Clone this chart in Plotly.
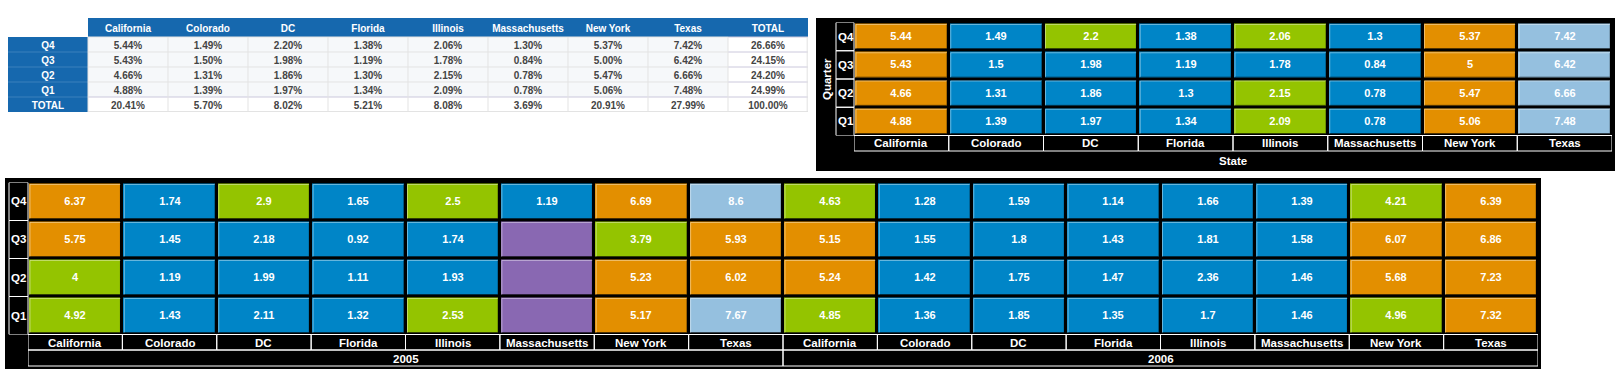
import plotly.graph_objects as go

W, H = 1620, 377

# ---------------- data ----------------
states = ["California", "Colorado", "DC", "Florida", "Illinois",
          "Massachusetts", "New York", "Texas"]
quarters = ["Q1", "Q2", "Q3", "Q4"]          # bottom -> top

# overall share by quarter (%), rows Q1..Q4
share_q1 = [4.88, 1.39, 1.97, 1.34, 2.09, 0.78, 5.06, 7.48]
share_q2 = [4.66, 1.31, 1.86, 1.30, 2.15, 0.78, 5.47, 6.66]
share_q3 = [5.43, 1.50, 1.98, 1.19, 1.78, 0.84, 5.00, 6.42]
share_q4 = [5.44, 1.49, 2.20, 1.38, 2.06, 1.30, 5.37, 7.42]
state_totals = [20.41, 5.70, 8.02, 5.21, 8.08, 3.69, 20.91, 27.99]
quarter_totals = {"Q4": 26.66, "Q3": 24.15, "Q2": 24.20, "Q1": 24.99}
grand_total = 100.00

years = ["2005", "2006"]
# by year, rows Q1..Q4, columns = states (None = missing)
y2005_q1 = [4.92, 1.43, 2.11, 1.32, 2.53, None, 5.17, 7.67]
y2005_q2 = [4.00, 1.19, 1.99, 1.11, 1.93, None, 5.23, 6.02]
y2005_q3 = [5.75, 1.45, 2.18, 0.92, 1.74, None, 3.79, 5.93]
y2005_q4 = [6.37, 1.74, 2.90, 1.65, 2.50, 1.19, 6.69, 8.60]
y2006_q1 = [4.85, 1.36, 1.85, 1.35, 1.70, 1.46, 4.96, 7.32]
y2006_q2 = [5.24, 1.42, 1.75, 1.47, 2.36, 1.46, 5.68, 7.23]
y2006_q3 = [5.15, 1.55, 1.80, 1.43, 1.81, 1.58, 6.07, 6.86]
y2006_q4 = [4.63, 1.28, 1.59, 1.14, 1.66, 1.39, 4.21, 6.39]

# ---------------- styling ----------------
BLUE, GREEN, ORANGE, LBLUE, PURPLE = "#0085C7", "#94C400", "#E38F00", "#95C0DF", "#8968B2"
TBLUE = "#1668AE"
FONT = "Liberation Sans"


def fx(p):
    return p / W


def fy(p):
    return 1 - p / H


def stepped(zmin, zmax, cuts, colors):
    pts = [zmin] + cuts + [zmax]
    sc = []
    for i, c in enumerate(colors):
        a = (pts[i] - zmin) / (zmax - zmin)
        b = (pts[i + 1] - zmin) / (zmax - zmin)
        sc += [[a, c], [b, c]]
    return sc


def fmt(v):
    return "" if v is None else f"{v:g}"


fig = go.Figure()

# ---------- black panels ----------
shapes = [
    dict(type="rect", xref="paper", yref="paper", x0=fx(816), x1=fx(1615), y0=fy(171), y1=fy(18),
         fillcolor="black", line_width=0, layer="below"),
    dict(type="rect", xref="paper", yref="paper", x0=fx(5), x1=fx(1541), y0=fy(369), y1=fy(178),
         fillcolor="black", line_width=0, layer="below"),
]
annotations = []

# ---------- summary table (drawn as a heatmap grid) ----------
tab_rows = ["TOTAL", "Q1", "Q2", "Q3", "Q4"]           # bottom -> top, header on top
share_by_q = {"Q1": share_q1, "Q2": share_q2, "Q3": share_q3, "Q4": share_q4}
header = [""] + states + ["TOTAL"]
t_text, t_cls = [], []
for r in tab_rows:
    if r == "TOTAL":
        vals = [f"{v:.2f}%" for v in state_totals] + [f"{grand_total:.2f}%"]
        cls = [0] + [2] * 9
    else:
        vals = [f"{v:.2f}%" for v in share_by_q[r]] + [f"{quarter_totals[r]:.2f}%"]
        cls = [0] + [1] * 8 + [2]
    t_text.append([r] + vals)
    t_cls.append(cls)
t_text.append(header)
t_cls.append([3] + [0] * 9)
row_h = [15, 15, 15, 15, 15, 19]
y_edges = [0]
for h in row_h:
    y_edges.append(y_edges[-1] + h)
x_edges = list(range(len(header) + 1))
fig.add_trace(go.Heatmap(
    z=t_cls, x=x_edges, y=y_edges, text=t_text, texttemplate="<b>%{text}</b>",
    textfont=dict(family=FONT, size=10),
    colorscale=[[0, TBLUE], [0.33, TBLUE], [0.33, "#F6F8FA"], [0.5, "#F6F8FA"],
                [0.5, "#FFFFFF"], [1, "#FFFFFF"]],
    zmin=0, zmax=3, showscale=False, hoverinfo="skip", xaxis="x3", yaxis="y3"))

# table grid lines
GL = "#E3E3E3"
LAV = "#CBC8DC"
nrow_body = 5
for k in range(1, nrow_body + 1):
    yv = y_edges[k]
    shapes.append(dict(type="line", xref="x3", yref="y3", x0=1, x1=9, y0=yv, y1=yv,
                       line=dict(color=LAV if k == 1 else GL, width=1)))
    shapes.append(dict(type="line", xref="x3", yref="y3", x0=9, x1=10, y0=yv, y1=yv,
                       line=dict(color=LAV, width=1)))
    if k < nrow_body:
        shapes.append(dict(type="line", xref="x3", yref="y3", x0=0, x1=1, y0=yv, y1=yv,
                           line=dict(color="#3B80BC", width=1)))
shapes.append(dict(type="line", xref="x3", yref="y3", x0=1, x1=10, y0=0.5, y1=0.5,
                   line=dict(color=GL, width=1)))
for c in range(1, 11):
    shapes.append(dict(type="line", xref="x3", yref="y3", x0=c if c < 10 else 9.99, x1=c if c < 10 else 9.99,
                       y0=0, y1=y_edges[nrow_body], line=dict(color=GL, width=1)))

# ---------- top-right heatmap ----------
z_top = [share_q1, share_q2, share_q3, share_q4]
fig.add_trace(go.Heatmap(
    z=z_top, x=list(range(len(states))), y=list(range(len(quarters))),
    text=[[fmt(v) for v in row] for row in z_top], texttemplate="<b>%{text}</b>",
    textfont=dict(family=FONT, size=11, color="white"),
    colorscale=stepped(0.7, 7.6, [2.0, 4.0, 6.0], [BLUE, GREEN, ORANGE, LBLUE]),
    zmin=0.7, zmax=7.6, showscale=False, xgap=3, ygap=3, hoverinfo="skip",
    xaxis="x", yaxis="y"))

# ---------- bottom heatmap ----------
z_bot = [y2005_q1 + y2006_q1, y2005_q2 + y2006_q2, y2005_q3 + y2006_q3, y2005_q4 + y2006_q4]
bot_states = states + states
nx = len(bot_states)
fig.add_trace(go.Heatmap(
    z=z_bot, x=list(range(nx)), y=list(range(4)),
    text=[[fmt(v) for v in row] for row in z_bot], texttemplate="<b>%{text}</b>",
    textfont=dict(family=FONT, size=11, color="white"),
    colorscale=stepped(0.8, 8.7, [2.4, 5.0, 7.5], [BLUE, GREEN, ORANGE, LBLUE]),
    zmin=0.8, zmax=8.7, showscale=False, xgap=3, ygap=3, hoverinfo="skip",
    xaxis="x2", yaxis="y2"))
# missing cells
z_miss = [[1 if v is None else None for v in row] for row in z_bot]
fig.add_trace(go.Heatmap(
    z=z_miss, x=list(range(nx)), y=list(range(4)),
    colorscale=[[0, PURPLE], [1, PURPLE]], showscale=False, xgap=3, ygap=3,
    hoverinfo="skip", xaxis="x2", yaxis="y2"))

# ---------- axes ----------
TOP_X = (854, 1612)
TOP_Y = (22.5, 135.5)
BOT_X = (28, 1538)
BOT_Y = (182.5, 334.5)
lab = dict(family=FONT, size=11.5, color="white")
ax_hidden = dict(visible=False, fixedrange=True)
fig.update_layout(
    xaxis=dict(domain=[fx(TOP_X[0]), fx(TOP_X[1])], range=[-0.5, len(states) - 0.5], anchor="y", **ax_hidden),
    yaxis=dict(domain=[fy(TOP_Y[1]), fy(TOP_Y[0])], range=[-0.5, 3.5], anchor="x", **ax_hidden),
    xaxis2=dict(domain=[fx(BOT_X[0]), fx(BOT_X[1])], range=[-0.5, nx - 0.5], anchor="y2", **ax_hidden),
    yaxis2=dict(domain=[fy(BOT_Y[1]), fy(BOT_Y[0])], range=[-0.5, 3.5], anchor="x2", **ax_hidden),
    xaxis3=dict(domain=[fx(8), fx(808)], range=[0, len(header)], anchor="y3", **ax_hidden),
    yaxis3=dict(domain=[fy(18 + y_edges[-1]), fy(18)], range=[0, y_edges[-1]], anchor="x3", **ax_hidden),
)


# bevel edges of the coloured cells (light top/left, dark bottom/right)
def bevels(xr, yr, ncols, nrows, pxw, pxh):
    pitch_x = pxw / ncols
    pitch_y = pxh / nrows
    gx = 2.0 / pitch_x
    gy = 2.0 / pitch_y
    out = []
    for j in range(ncols):
        for i in range(nrows):
            x0, x1 = j - 0.5 + gx, j + 0.5 - gx
            y0, y1 = i - 0.5 + gy, i + 0.5 - gy
            out.append(dict(type="path", xref=xr, yref=yr,
                            path=f"M{x0},{y0} L{x0},{y1} L{x1},{y1}",
                            line=dict(color="rgba(255,255,255,0.4)", width=1)))
            out.append(dict(type="path", xref=xr, yref=yr,
                            path=f"M{x0},{y0} L{x1},{y0} L{x1},{y1}",
                            line=dict(color="rgba(0,0,0,0.35)", width=1)))
    return out


shapes += bevels("x", "y", len(states), 4, TOP_X[1] - TOP_X[0], TOP_Y[1] - TOP_Y[0])
shapes += bevels("x2", "y2", nx, 4, BOT_X[1] - BOT_X[0], BOT_Y[1] - BOT_Y[0])

C = dict(showarrow=False, xanchor="center", yanchor="middle")

# top-right labels and boxes
for i, q in enumerate(quarters):
    shapes.append(dict(type="rect", xref="paper", yref="y", x0=fx(836), x1=fx(854), y0=i - 0.5, y1=i + 0.5,
                       line=dict(color="white", width=1)))
    annotations.append(dict(xref="paper", yref="y", x=fx(845.5), y=i, text=f"<b>{q}</b>", font=lab, **C))
for j, s in enumerate(states):
    shapes.append(dict(type="rect", xref="x", yref="paper", x0=j - 0.5, x1=j + 0.5, y0=fy(151), y1=fy(135.5),
                       line=dict(color="white", width=1)))
    annotations.append(dict(xref="x", yref="paper", x=j, y=fy(143.5), text=f"<b>{s}</b>", font=lab, **C))
annotations.append(dict(xref="paper", yref="paper", x=fx(1233), y=fy(161), text="<b>State</b>", font=lab, **C))
annotations.append(dict(xref="paper", yref="paper", x=fx(827), y=fy(79), text="<b>Quarter</b>",
                        textangle=-90, font=lab, **C))

# bottom labels and boxes
for i, q in enumerate(quarters):
    shapes.append(dict(type="rect", xref="paper", yref="y2", x0=fx(9), x1=fx(28), y0=i - 0.5, y1=i + 0.5,
                       line=dict(color="white", width=1)))
    annotations.append(dict(xref="paper", yref="y2", x=fx(18.5), y=i, text=f"<b>{q}</b>", font=lab, **C))
for j, s in enumerate(bot_states):
    shapes.append(dict(type="rect", xref="x2", yref="paper", x0=j - 0.5, x1=j + 0.5, y0=fy(350), y1=fy(334.5),
                       line=dict(color="white", width=1)))
    annotations.append(dict(xref="x2", yref="paper", x=j, y=fy(342.5), text=f"<b>{s}</b>", font=lab, **C))
for k, yr in enumerate(years):
    x0 = k * len(states) - 0.5
    x1 = (k + 1) * len(states) - 0.5
    shapes.append(dict(type="rect", xref="x2", yref="paper", x0=x0, x1=x1, y0=fy(366), y1=fy(350),
                       line=dict(color="white", width=1)))
    annotations.append(dict(xref="x2", yref="paper", x=(x0 + x1) / 2, y=fy(358.5), text=f"<b>{yr}</b>",
                            font=lab, **C))

fig.update_layout(
    width=W, height=H, margin=dict(l=0, r=0, t=0, b=0),
    paper_bgcolor="white", plot_bgcolor="black",
    showlegend=False, shapes=shapes, annotations=annotations,
    font=dict(family=FONT),
)

fig.write_html("out.html", config={"displayModeBar": False},
               post_script="document.body.style.margin='0';document.body.style.overflow='hidden';")
